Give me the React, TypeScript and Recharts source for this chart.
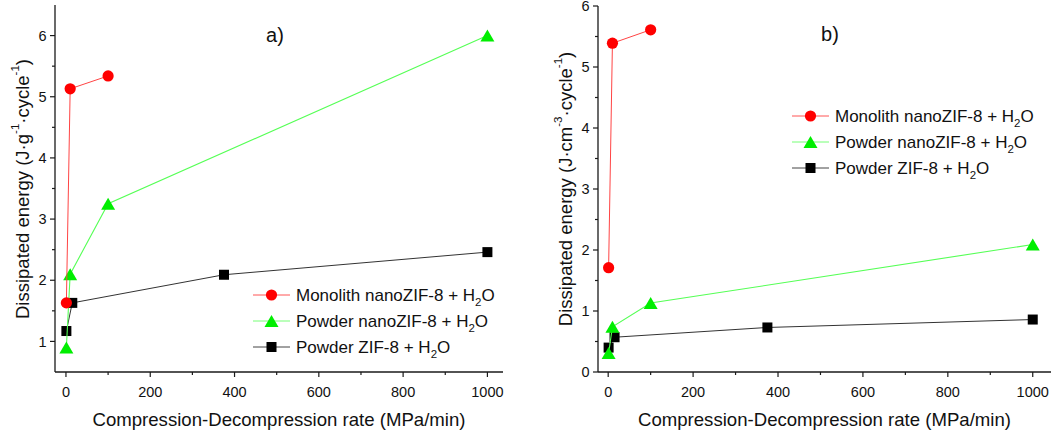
import { ScatterChart, Scatter, XAxis, YAxis, Legend } from 'recharts';

// compression-decompression rates (MPa/min)
const RATE_MONO = [1, 10, 100];
const RATE_NANO = [1, 10, 100, 1000];
const RATE_ZIF = [1, 15, 375, 1000];

// panel a) dissipated energy per gram
const A_MONO = [1.63, 5.13, 5.34];
const A_NANO = [0.9, 2.1, 3.25, 6.0];
const A_ZIF = [1.17, 1.63, 2.09, 2.46];

// panel b) dissipated energy per cm3
const B_MONO = [1.71, 5.39, 5.61];
const B_NANO = [0.31, 0.74, 1.13, 2.09];
const B_ZIF = [0.4, 0.57, 0.73, 0.86];

const X_TICKS = [0, 100, 200, 300, 400, 500, 600, 700, 800, 900, 1000];
const X_MAJOR = [0, 200, 400, 600, 800, 1000];
const A_Y_TICKS = [1, 1.5, 2, 2.5, 3, 3.5, 4, 4.5, 5, 5.5, 6];
const B_Y_TICKS = [0, 0.5, 1, 1.5, 2, 2.5, 3, 3.5, 4, 4.5, 5, 5.5, 6];

const SERIES_NAMES = ['Monolith nanoZIF-8 + ', 'Powder nanoZIF-8 + ', 'Powder ZIF-8 + '];

const FONT = "'Liberation Sans', Arial, sans-serif";
const AXIS = '#1a1a1a';
const RED = '#ff0000';
const GREEN = '#00ee00';
const BLACK = '#000000';

const toPoints = (xs: number[], ys: number[]) => xs.map((x, i) => ({ x, y: ys[i] }));

function Marker({ kind, cx, cy, color }: { kind: string; cx: number; cy: number; color: string }) {
  if (kind === 'circle') return <circle cx={cx} cy={cy} r={5.6} fill={color} />;
  if (kind === 'triangle') {
    const w = 14;
    const h = 12;
    return (
      <polygon
        points={`${cx - w / 2},${cy + h / 2} ${cx + w / 2},${cy + h / 2} ${cx},${cy - h / 2}`}
        fill={color}
      />
    );
  }
  return <rect x={cx - 5} y={cy - 5} width={10} height={10} fill={color} />;
}

const shapeOf = (kind: string, color: string) => (props: any) =>
  <Marker kind={kind} cx={props.cx} cy={props.cy} color={color} />;

function XTick({ x, y, payload }: any) {
  const major = X_MAJOR.includes(payload.value);
  return (
    <g>
      <line x1={x} x2={x} y1={y} y2={y + (major ? 5 : 3)} stroke={AXIS} strokeWidth={1.2} />
      {major && (
        <text x={x} y={y + 25} textAnchor="middle" fontSize={14.5} fontFamily={FONT} fill="#111">
          {payload.value}
        </text>
      )}
    </g>
  );
}

function YTick({ x, y, payload }: any) {
  const major = Number.isInteger(payload.value);
  return (
    <g>
      <line x1={x - (major ? 5 : 3)} x2={x} y1={y} y2={y} stroke={AXIS} strokeWidth={1.2} />
      {major && (
        <text x={x - 8.5} y={y} dy="0.36em" textAnchor="end" fontSize={14.5} fontFamily={FONT} fill="#111">
          {payload.value}
        </text>
      )}
    </g>
  );
}

function LegendBox({ rowGap }: { rowGap: number }) {
  const rows = [
    { kind: 'circle', color: RED, line: '#ff5555' },
    { kind: 'triangle', color: GREEN, line: '#77ff77' },
    { kind: 'square', color: BLACK, line: '#444' },
  ];
  return (
    <svg width={270} height={84} style={{ display: 'block' }}>
      {rows.map((r, i) => {
        const cy = 13 + i * rowGap;
        return (
          <g key={r.kind}>
            <line x1={3} x2={40} y1={cy} y2={cy} stroke={r.line} strokeWidth={1} />
            <Marker kind={r.kind} cx={21.5} cy={cy} color={r.color} />
            <text x={46} y={cy} dy="0.36em" fontSize={17} fontFamily={FONT} fill="#111">
              {SERIES_NAMES[i]}H
              <tspan fontSize={11.5} dy={5}>2</tspan>
              <tspan dy={-5}>O</tspan>
            </text>
          </g>
        );
      })}
    </svg>
  );
}

interface PanelProps {
  width: number;
  top: number;
  right: number;
  yWidth: number;
  xDomain: [number, number];
  yDomain: [number, number];
  yTicks: number[];
  mono: number[];
  nano: number[];
  zif: number[];
  unit: string;
  tag: string;
  tagX: number;
  tagY: number;
  yLabelX: number;
  legendLeft: number;
  legendTop: number;
  legendGap: number;
}

function Panel(p: PanelProps) {
  // y title, plus the panel tag (a / b) drawn alongside it
  const renderYLabel = (props: any) => {
    const vb = props.viewBox;
    const cx = vb.x + p.yLabelX;
    const cy = 189;
    return (
      <g>
        <text
          x={cx}
          y={cy}
          transform={`rotate(-90 ${cx} ${cy})`}
          textAnchor="middle"
          dominantBaseline="central"
          fontSize={18.5}
          fontFamily={FONT}
          fill="#111"
        >
          Dissipated energy (J·{p.unit}
          <tspan fontSize={11.5} dy={-7}>-{p.unit === 'g' ? '1' : '3'}</tspan>
          <tspan dy={7}>·cycle</tspan>
          <tspan fontSize={11.5} dy={-7}>-1</tspan>
          <tspan dy={7}>)</tspan>
        </text>
        <text x={p.tagX} y={p.tagY} dy="0.36em" textAnchor="middle" fontSize={20} fontFamily={FONT} fill="#111">
          {p.tag}
        </text>
      </g>
    );
  };

  const renderXLabel = (props: any) => {
    const vb = props.viewBox;
    return (
      <text
        x={vb.x + vb.width / 2}
        y={vb.y + 54}
        textAnchor="middle"
        fontSize={18.6}
        fontFamily={FONT}
        fill="#111"
      >
        Compression-Decompression rate (MPa/min)
      </text>
    );
  };

  return (
    <ScatterChart
      width={p.width}
      height={434}
      margin={{ top: p.top, right: p.right, bottom: 0, left: 0 }}
    >
      <XAxis
        dataKey="x"
        type="number"
        domain={p.xDomain}
        allowDataOverflow
        ticks={X_TICKS}
        interval={0}
        height={62}
        tickSize={0}
        tickMargin={0}
        tickLine={false}
        tick={<XTick />}
        axisLine={{ stroke: AXIS, strokeWidth: 1.3 }}
        label={{ content: renderXLabel }}
      />
      <XAxis
        xAxisId="top"
        orientation="top"
        type="number"
        domain={p.xDomain}
        allowDataOverflow
        height={0}
        tick={false}
        tickLine={false}
        axisLine={{ stroke: AXIS, strokeWidth: 1.3 }}
      />
      <YAxis
        dataKey="y"
        type="number"
        domain={p.yDomain}
        allowDataOverflow
        ticks={p.yTicks}
        interval={0}
        width={p.yWidth}
        tickSize={0}
        tickMargin={0}
        tickLine={false}
        tick={<YTick />}
        axisLine={{ stroke: AXIS, strokeWidth: 1.3 }}
        label={{ content: renderYLabel }}
      />
      <YAxis
        yAxisId="right"
        orientation="right"
        type="number"
        domain={p.yDomain}
        allowDataOverflow
        width={0}
        tick={false}
        tickLine={false}
        axisLine={{ stroke: AXIS, strokeWidth: 1.3 }}
      />
      <Legend
        layout="horizontal"
        verticalAlign="middle"
        align="center"
        content={() => <LegendBox rowGap={p.legendGap} />}
        wrapperStyle={{ position: 'absolute', left: p.legendLeft, top: p.legendTop, width: 270, bottom: 'auto', right: 'auto' }}
      />
      <Scatter
        name="Powder ZIF-8"
        data={toPoints(RATE_ZIF, p.zif)}
        line={{ stroke: '#333', strokeWidth: 1 }}
        shape={shapeOf('square', BLACK)}
        isAnimationActive={false}
      />
      <Scatter
        name="Powder nanoZIF-8"
        data={toPoints(RATE_NANO, p.nano)}
        line={{ stroke: '#55ff55', strokeWidth: 1.1 }}
        shape={shapeOf('triangle', GREEN)}
        isAnimationActive={false}
      />
      <Scatter
        name="Monolith nanoZIF-8"
        data={toPoints(RATE_MONO, p.mono)}
        line={{ stroke: '#ff4444', strokeWidth: 1 }}
        shape={shapeOf('circle', RED)}
        isAnimationActive={false}
      />
    </ScatterChart>
  );
}

export default function App() {
  return (
    <div
      style={{
        position: 'fixed',
        left: 0,
        top: 0,
        width: 1056,
        height: 434,
        background: '#fff',
        display: 'flex',
      }}
    >
      <Panel
        width={530}
        top={5}
        right={27}
        yWidth={55}
        xDomain={[-26, 1037]}
        yDomain={[0.5, 6.5]}
        yTicks={A_Y_TICKS}
        mono={A_MONO}
        nano={A_NANO}
        zif={A_ZIF}
        unit="g"
        tag="a)"
        tagX={275}
        tagY={35}
        yLabelX={22}
        legendLeft={250}
        legendTop={282}
        legendGap={26}
      />
      <Panel
        width={526}
        top={6}
        right={5}
        yWidth={68}
        xDomain={[-24, 1043]}
        yDomain={[0, 6]}
        yTicks={B_Y_TICKS}
        mono={B_MONO}
        nano={B_NANO}
        zif={B_ZIF}
        unit="cm"
        tag="b)"
        tagX={300}
        tagY={34}
        yLabelX={35}
        legendLeft={259}
        legendTop={103}
        legendGap={26}
      />
    </div>
  );
}
